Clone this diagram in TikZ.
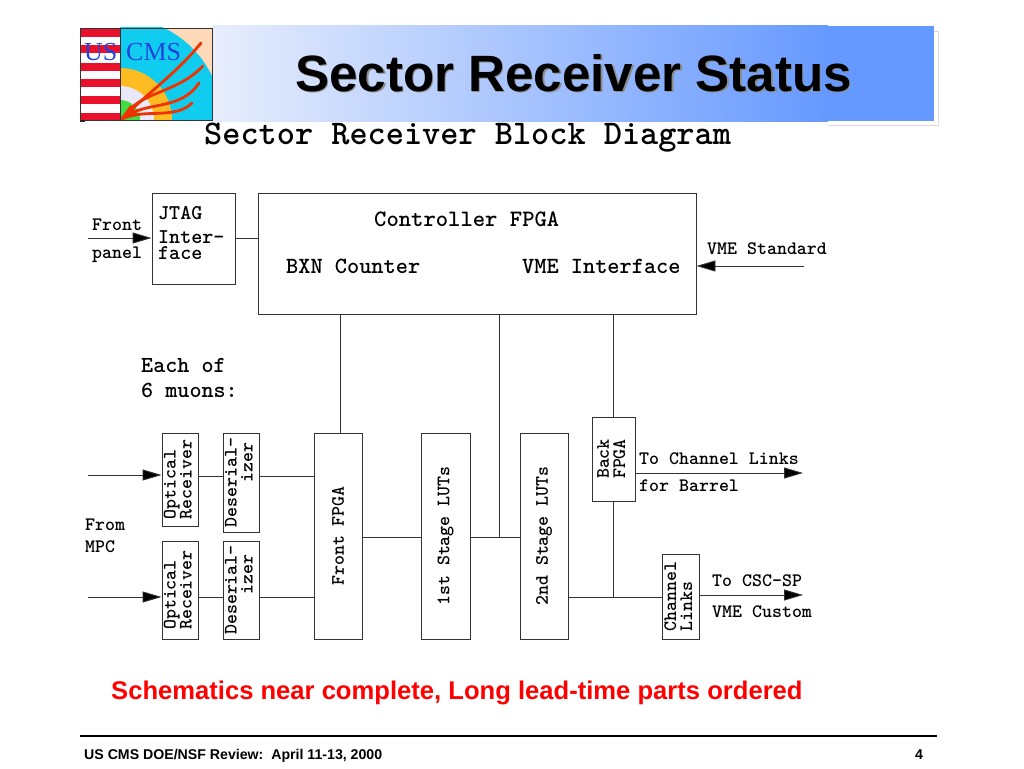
\documentclass[tikz,border=0pt]{standalone}
\usepackage{fontspec}
\usepackage{graphicx}
\setmainfont{Liberation Sans}
\usetikzlibrary{arrows.meta}
\definecolor{bandL}{HTML}{E8EEFC}
\definecolor{bandR}{HTML}{6699FF}
\definecolor{lnk}{HTML}{333333}
\definecolor{peach}{HTML}{FFD9B8}
\definecolor{lav}{HTML}{E8E8F8}
\definecolor{lcyan}{HTML}{10CCEE}
\definecolor{lorange}{HTML}{FFBB22}
\definecolor{lgreen}{HTML}{44DD44}
\definecolor{lred}{HTML}{E8102A}
\definecolor{ltrack}{HTML}{EE3300}
\definecolor{lblue}{HTML}{2244DD}
\newcommand{\mono}[1]{\ttfamily\bfseries\fontsize{#1}{#1}\selectfont}
\newcommand{\jtagfont}{\ttfamily\bfseries\fontsize{21}{16.5}\selectfont}
\newcommand{\rotlines}[1]{\rotatebox{90}{\def\arraystretch{0.78}\begin{tabular}{@{}l@{}}#1\end{tabular}}}
\tikzset{
  blk/.style={draw=lnk,line width=0.9pt,fill=white,inner sep=0pt},
  wire/.style={draw=lnk,line width=0.9pt},
  arr/.style={wire,-{Triangle[length=19pt,width=11pt,fill=black]}},
  lab/.style={inner sep=0pt,anchor=base west,text=black},
  small/.style={font=\mono{19}},
  big/.style={font=\mono{23.5}},
  med/.style={font=\mono{21}},
  track/.style={draw=ltrack,line width=2.8pt,line cap=round}
}
\begin{document}
\begin{tikzpicture}[x=1pt,y=-1pt]
\useasboundingbox (0,0) rectangle (1024,768);
\fill[white] (0,0) rectangle (1024,768);
% title band shadow frame and band
\draw[draw=black!15,line width=0.6pt] (828,125) -- (938,125) -- (938,31) -- (934,31);
\fill[left color=bandL,right color=bandR,draw=none] (212,26) rectangle (828,121);
\fill[bandR] (827.5,26) rectangle (934,121);
% logo
\fill[white] (80,28) rectangle (120,120);
\foreach \a/\b in {28/37,45/53,63/71,79/87,96/104,113/120}{\fill[lred] (80,\a) rectangle (120,\b);}
\begin{scope}
\clip (120,28) rectangle (212,120);
\fill[peach] (120,28) rectangle (212,120);
\fill[lcyan] (120,120) circle[radius=102];
\fill[lorange] (120,120) circle[radius=52];
\fill[lav] (120,120) circle[radius=34];
\fill[lgreen] (120,120) circle[radius=20];
\draw[track] (122,119) .. controls (145,95) and (175,75) .. (201,43);
\draw[track] (122,119) .. controls (140,90) and (175,95) .. (203,66);
\draw[track] (122,119) .. controls (145,100) and (180,112) .. (199,83);
\draw[track] (122,119) .. controls (145,108) and (175,120) .. (192,103);
\fill[ltrack] (121,120) -- (130,105) -- (137,114) -- cycle;
\end{scope}
\draw[black!80,line width=0.9pt] (80,28) rectangle (212,120);
\draw[black!80,line width=0.9pt] (120,28) -- (120,120);
\fill[black!85] (79.5,120) rectangle (85,121.5);
\node[lab,text=lblue] (us) at (84,60) {\fontspec{Liberation Serif}\fontsize{26}{26}\selectfont US};
\node[lab,text=lblue] (cms) at (126,60) {\fontspec{Liberation Serif}\fontsize{26}{26}\selectfont CMS};
% title
\node[lab,text=black!45] (titleshadow) at (296.5,92.5) {\fontsize{51.1}{51}\selectfont\bfseries Sector Receiver Status};
\node[lab] (title) at (295,91) {\fontsize{51.1}{51}\selectfont\bfseries Sector Receiver Status};
\node[lab] (sub) at (204,144) {\mono{34.6}Sector Receiver Block Diagram};
% boxes
\node[blk,minimum width=83pt,minimum height=91pt] (jtag) at (193.5,238.5) {};
\node[blk,minimum width=438pt,minimum height=121pt] (ctrl) at (477,253.5) {};
\node[blk,minimum width=36pt,minimum height=93pt] (opt1) at (180,479.5) {\mono{19}\rotlines{Optical\\Receiver}};
\node[blk,minimum width=36pt,minimum height=99pt] (des1) at (241,482.5) {\mono{19}\rotlines{Deserial-\\\hspace*{45pt}izer}};
\node[blk,minimum width=36pt,minimum height=98pt] (opt2) at (180,590) {\mono{19}\rotlines{Optical\\Receiver}};
\node[blk,minimum width=36pt,minimum height=98pt] (des2) at (241,590) {\mono{19}\rotlines{Deserial-\\\hspace*{40pt}izer}};
\node[blk,minimum width=48pt,minimum height=206pt] (front) at (338,536) {\mono{19}\rotatebox{90}{Front FPGA}};
\node[blk,minimum width=49pt,minimum height=206pt] (lut1) at (445.5,536) {\mono{19}\rotatebox{90}{1st Stage LUTs}};
\node[blk,minimum width=48pt,minimum height=206pt] (lut2) at (544,536) {\mono{19}\rotatebox{90}{2nd Stage LUTs}};
\node[blk,minimum width=43pt,minimum height=84pt] (back) at (613.5,459) {\mono{19}\rotlines{Back\\FPGA}};
\node[blk,minimum width=37pt,minimum height=85pt] (chan) at (680.5,596.5) {\mono{19}\rotlines{Channel\\Links}};
% free ends and levels
\coordinate (fp) at (88,238);
\coordinate (vme) at (804,266);
\coordinate (in1) at (88,475);
\coordinate (in2) at (88,597);
\coordinate (o1) at (803,473);
\coordinate (o2) at (803,595);
\coordinate (v1) at (340,0);
\coordinate (v2) at (499,0);
\coordinate (v3) at (613,0);
\coordinate (hm) at (0,537);
\coordinate (hb) at (0,597);
\coordinate (ha) at (0,476);
% connectors
\draw[arr] (fp) -- (jtag.west |- fp);
\draw[wire] (jtag.east |- fp) -- (ctrl.west |- fp);
\draw[arr] (vme) -- (ctrl.east |- vme);
\draw[wire] (v1 |- ctrl.south) -- (v1 |- front.north);
\draw[wire] (v2 |- ctrl.south) -- (v2 |- hm);
\draw[wire] (v3 |- ctrl.south) -- (v3 |- back.north);
\draw[wire] (v3 |- back.south) -- (v3 |- hb);
\draw[arr] (in1) -- (opt1.west |- in1);
\draw[arr] (in2) -- (opt2.west |- in2);
\draw[wire] (opt1.east |- ha) -- (des1.west |- ha);
\draw[wire] (des1.east |- ha) -- (front.west |- ha);
\draw[wire] (opt2.east |- hb) -- (des2.west |- hb);
\draw[wire] (des2.east |- hb) -- (front.west |- hb);
\draw[wire] (front.east |- hm) -- (lut1.west |- hm);
\draw[wire] (lut1.east |- hm) -- (lut2.west |- hm);
\draw[wire] (lut2.east |- hb) -- (chan.west |- hb);
\draw[arr] (back.east |- o1) -- (o1);
\draw[arr] (chan.east |- o2) -- (o2);
% labels
\node[lab,small] at (92,230) {Front};
\node[lab,small] at (92,258) {panel};
\node[lab,med] at (158,219) {JTAG};
\node[inner sep=0pt,anchor=north west,align=left,font=\jtagfont] at (158,230) {Inter-\\face};
\node[lab,big] at (374,226) {Controller FPGA};
\node[lab,font=\mono{23.2}] at (286,273) {BXN Counter};
\node[lab,font=\mono{23.2}] at (522,273) {VME Interface};
\node[lab,small] at (707,254) {VME Standard};
\node[lab,font=\mono{23}] at (141,372) {Each of};
\node[lab,font=\mono{23}] at (141,397) {6 muons:};
\node[lab,small] at (85,530) {From};
\node[lab,small] at (85,552) {MPC};
\node[lab,small] at (639,464) {To Channel Links};
\node[lab,small] at (639,491) {for Barrel};
\node[lab,small] at (712,586) {To CSC-SP};
\node[lab,small] at (712,617) {VME Custom};
\node[lab,text=red] at (111,699) {\fontsize{25.6}{26}\selectfont\bfseries Schematics near complete, Long lead-time parts ordered};
% footer
\draw[black,line width=1.4pt] (80,736) -- (937,736);
\node[lab] at (84,759) {\fontsize{14.15}{14}\selectfont\bfseries US CMS DOE/NSF Review:\ \ April 11-13, 2000};
\node[lab] at (915,759) {\fontsize{14.15}{14}\selectfont\bfseries 4};
\end{tikzpicture}
\end{document}
